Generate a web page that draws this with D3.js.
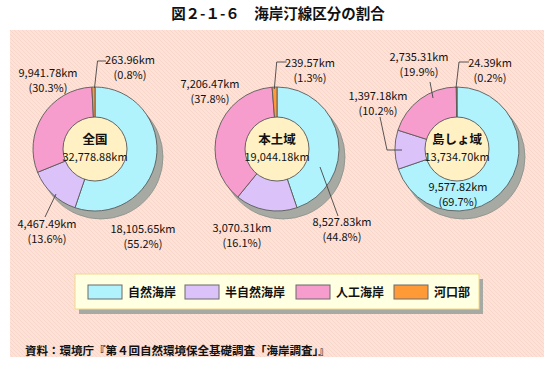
<!DOCTYPE html>
<html><head><meta charset="utf-8">
<script src="https://cdn.jsdelivr.net/npm/d3@7"></script>
<style>
html,body{margin:0;padding:0;background:#fff;}
svg{display:block;font-family:"Noto Sans CJK JP","Noto Sans",sans-serif;}
</style></head>
<body>
<svg id="c" width="554" height="367"></svg>
<script>
// ---- data ----
const categories = ["自然海岸", "半自然海岸", "人工海岸", "河口部"];
const regions = ["全国", "本土域", "島しょ域"];
const totals = ["32,778.88km", "19,044.18km", "13,734.70km"];
const valuesZenkoku = [18105.65, 4467.49, 9941.78, 263.96];
const valuesHondo = [8527.83, 3070.31, 7206.47, 239.57];
const valuesTosho = [9577.82, 1397.18, 2735.31, 24.39];
const pctZenkoku = [55.2, 13.6, 30.3, 0.8];
const pctHondo = [44.8, 16.1, 37.8, 1.3];
const pctTosho = [69.7, 10.2, 19.9, 0.2];
const title = "図２-１-６　海岸汀線区分の割合";
const source = "資料：環境庁『第４回自然環境保全基礎調査「海岸調査」』";

// ---- layout / style ----
const colors = ["#b0f3fc", "#dbc3f9", "#f79dce", "#ff9a36"];
const fmt = v => d3.format(",.2f")(v) + "km";
const pies = [
  {cx: 95, cy: 149, values: valuesZenkoku, pct: pctZenkoku,
   labels: [[48, 80], [-48, 75], [-47, -76], [35, -89]],
   leaders: [null, [[-50, 68], [-39, 45]], null, [[-0.5, -61], [2.5, -88], [11, -88]]]},
  {cx: 277, cy: 149, values: valuesHondo, pct: pctHondo,
   labels: [[65, 73], [-35, 79], [-67, -65], [33, -86]],
   leaders: [[[43, 18], [61, 67]], null, null, [[-2.7, -60], [-0.3, -87], [9.5, -87]]]},
  {cx: 457, cy: 149, values: valuesTosho, pct: pctTosho,
   labels: [[1, 38], [-79, -53], [-38, -92], [33, -86]],
   leaders: [null, [[-77, -32], [-70, 1], [-55, 1]], [[-27, -67], [-24, -51]], [[-1, -61], [2, -87], [12, -87]]]}
];
const R = 62, r0 = 32;

const svg = d3.select("#c");
const defs = svg.append("defs");
const pat = defs.append("pattern").attr("id", "bgp").attr("patternUnits", "userSpaceOnUse")
  .attr("width", 4).attr("height", 4);
pat.append("rect").attr("width", 4).attr("height", 4).attr("fill", "#fee2d7");
pat.append("path").attr("d", "M0,0 L4,4 M-1,3 L1,5 M3,-1 L5,1").attr("stroke", "#f9d6ca").attr("stroke-width", 1);

svg.append("text").attr("x", 278).attr("y", 19).attr("text-anchor", "middle")
  .attr("font-size", 14.5).attr("font-weight", "bold").attr("fill", "#111").text(title);

svg.append("rect").attr("x", 10).attr("y", 30).attr("width", 534).attr("height", 327).attr("fill", "url(#bgp)");

const pie = d3.pie().sort(null).value(d => d);
const arc = d3.arc().innerRadius(0).outerRadius(R);

pies.forEach((p, pi) => {
  const g = svg.append("g").attr("transform", `translate(${p.cx},${p.cy})`);
  g.append("circle").attr("cx", 6).attr("cy", 8).attr("r", R)
    .attr("fill", "#a6aaa3").attr("stroke", "#8a8e88").attr("stroke-width", 0.8);
  g.selectAll("path.s").data(pie(p.values)).join("path").attr("class", "s")
    .attr("d", arc).attr("fill", (d, i) => colors[i])
    .attr("stroke", "#5a5a5a").attr("stroke-width", 0.9);
  g.append("circle").attr("r", r0).attr("fill", "#fff1c4").attr("stroke", "#555").attr("stroke-width", 0.9);
  g.append("text").attr("y", -5).attr("text-anchor", "middle").attr("font-size", 12.5)
    .attr("font-weight", "bold").attr("fill", "#111").text(regions[pi]);
  g.append("text").attr("y", 12).attr("text-anchor", "middle").attr("font-size", 11)
    .attr("fill", "#111").text(totals[pi]);
  p.values.forEach((v, i) => {
    const [dx, dy] = p.labels[i];
    g.append("text").attr("x", dx).attr("y", dy + 4).attr("text-anchor", "middle")
      .attr("font-size", 11).attr("fill", "#111").text(fmt(v));
    g.append("text").attr("x", dx).attr("y", dy + 19).attr("text-anchor", "middle")
      .attr("font-size", 11).attr("fill", "#111").text("(" + p.pct[i].toFixed(1) + "%)");
    if (p.leaders[i]) {
      g.append("path").attr("d", d3.line()(p.leaders[i])).attr("fill", "none")
        .attr("stroke", "#444").attr("stroke-width", 0.9);
    }
  });
});

// legend
const lg = svg.append("g");
lg.append("rect").attr("x", 79).attr("y", 279).attr("width", 404).attr("height", 35).attr("fill", "#a6aaa3");
lg.append("rect").attr("x", 75).attr("y", 274).attr("width", 404).attr("height", 35)
  .attr("fill", "#ffffe2").attr("stroke", "#f2d88c").attr("stroke-width", 1);
const lx = [88, 185, 296, 394];
categories.forEach((c, i) => {
  lg.append("rect").attr("x", lx[i]).attr("y", 285).attr("width", 34).attr("height", 14)
    .attr("fill", colors[i]).attr("stroke", "#6b6b6b").attr("stroke-width", 1);
  lg.append("text").attr("x", lx[i] + 40).attr("y", 297).attr("font-size", 12)
    .attr("font-weight", "bold").attr("fill", "#111").text(c);
});

svg.append("text").attr("x", 25).attr("y", 355).attr("font-size", 11.5)
  .attr("font-weight", "bold").attr("fill", "#111").text(source);
</script>
</body></html>
